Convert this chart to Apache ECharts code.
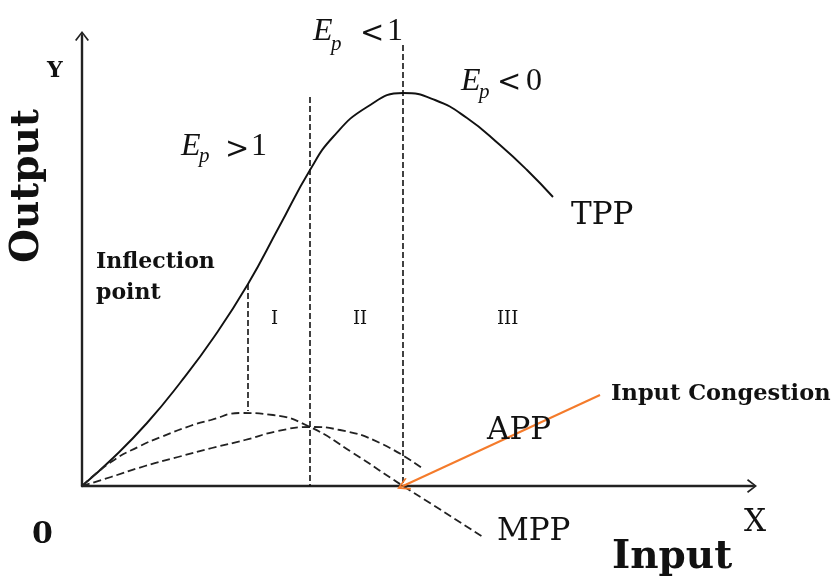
<!DOCTYPE html>
<html>
<head>
<meta charset="utf-8">
<script src="https://cdn.jsdelivr.net/npm/echarts@6/dist/echarts.min.js"></script>
<style>
html,body{margin:0;padding:0;background:#fff;}
#main{width:837px;height:579px;}
</style>
</head>
<body>
<div id="main"></div>
<script>
// curves, x = input, y = output
var tpp = [[0,0],[3.1,2.8],[6.5,6.3],[9.8,10.3],[13.2,14.9],[16.6,20.2],[19.7,25.9],[22.8,31.6],
	[25.1,34.9],[28.5,37.9],[32.1,39.3],[35.3,38.6],[38.5,36.8],[41.8,34.1],[44.5,31.6],[47.1,28.9]];
var mpp = [[0,0],[2.9,2.4],[5.8,4.0],[7.9,4.9],[10.8,6.0],[12.9,6.6],[15.8,7.3],[19.1,7.1],[22.8,5.9],
	[27.1,3.3],[32.1,0],[34.8,-1.7],[40.1,-5.1]];
var app = [[0,0],[2.9,0.9],[6.3,2.0],[9.6,2.9],[13.0,3.8],[16.3,4.6],[19.6,5.5],[22.8,5.9],[25.8,5.6],
	[29.8,4.3],[34.0,1.8]];
// vertical dashed dividers: [x, yTop, yBottom]
var dividers = [[16.6,20.2,7.5],[22.8,38.9,0],[32.1,44.1,0]];
// orange arrow from label to congestion point
var congestion = [[51.8,9.1],[32.1,0]];

var arrowPath = 'path://M0,9L7,0L14,9L12.6,10L7,2.6L1.4,10Z M6.3,1L7.7,1L7.7,10L6.3,10Z';
var serif = '"DejaVu Serif"';
var times = '"Liberation Serif"';

function txt(x, y, s, font, opt){
	var el = {
		type: 'text', x: x, y: y, z: 10,
		style: {text: s, font: font, fill: '#111', align: 'left', verticalAlign: 'middle'}
	};
	if(opt){ for(var k in opt){ el[k] = opt[k]; } }
	return el;
}
// E with subscript p, then relation sign and digit
function ep(xE, yE, yP, xRel, yRel, rel, xNum, num){
	return [
		txt(xE, yE, 'E', 'italic 32px ' + times),
		txt(xE + 18, yP, 'p', 'italic 21px ' + times),
		txt(xRel, yRel, rel, '29px ' + serif),
		txt(xNum, yE, num, '32px ' + times)
	];
}

var dividerSeries = dividers.map(function(d){
	return {
		type: 'line', data: [[d[0], d[1]], [d[0], d[2]]], symbol: 'none', silent: true,
		lineStyle: {color: '#111', width: 1.6, type: [6, 3]}
	};
});

var graphics = [
	txt(47, 71, 'Y', 'bold 22px ' + serif),
	txt(28, 186, 'Output', 'bold 39px ' + serif, {rotation: Math.PI/2, style: {text: 'Output', font: 'bold 39px ' + serif, fill: '#111', align: 'center', verticalAlign: 'middle'}}),
	txt(96, 262, 'Inflection', 'bold 22px ' + serif),
	txt(96, 293, 'point', 'bold 22px ' + serif),
	txt(32, 535, '0', 'bold 30px ' + serif),
	txt(744, 523, 'X', '31px ' + serif),
	txt(612, 558, 'Input', 'bold 39px ' + serif),
	txt(571, 216, 'TPP', '31px ' + serif),
	txt(487, 431, 'APP', '31px ' + serif),
	txt(497, 532, 'MPP', '31px ' + serif),
	txt(611, 394, 'Input Congestion', 'bold 22.5px ' + serif),
	txt(271, 319, 'I', '18px ' + serif),
	txt(353, 319, 'II', '18px ' + serif),
	txt(497, 319, 'III', '18px ' + serif)
].concat(
	ep(313, 31.5, 44, 360, 34.5, '<', 387, '1'),
	ep(181, 146.5, 156, 225, 150, '>', 251, '1'),
	ep(461, 81.5, 92, 497, 83.5, '<', 526, '0')
);

var myChart = echarts.init(document.getElementById('main'));
var option = {
	backgroundColor: '#fff',
	animation: false,
	grid: {left: 82, top: 36, right: 85, bottom: 93},
	xAxis: {
		type: 'value', min: 0, max: 67,
		axisLine: {show: true, onZero: false, symbol: ['none', arrowPath], symbolSize: [14, 10],
			lineStyle: {color: '#222', width: 2.4}},
		axisTick: {show: false}, axisLabel: {show: false}, splitLine: {show: false}
	},
	yAxis: {
		type: 'value', min: 0, max: 45,
		axisLine: {show: true, symbol: ['none', arrowPath], symbolSize: [14, 10],
			lineStyle: {color: '#222', width: 2.4}},
		axisTick: {show: false}, axisLabel: {show: false}, splitLine: {show: false}
	},
	series: [
		{
			name: 'TPP', type: 'line', data: tpp, smooth: true, symbol: 'none', clip: false,
			lineStyle: {color: '#111', width: 1.9}
		},{
			name: 'MPP', type: 'line', data: mpp, smooth: true, symbol: 'none', clip: false,
			lineStyle: {color: '#222', width: 1.8, type: [8, 4]}
		},{
			name: 'APP', type: 'line', data: app, smooth: true, symbol: 'none', clip: false,
			lineStyle: {color: '#222', width: 1.8, type: [8, 4]}
		},{
			name: 'Input Congestion', type: 'line', data: [], z: 5,
			markLine: {
				silent: true, animation: false,
				symbol: ['none', arrowPath], symbolSize: 13,
				label: {show: false},
				lineStyle: {color: '#f47b2b', width: 2, type: 'solid', opacity: 1},
				data: [[{coord: congestion[0]}, {coord: congestion[1]}]]
			}
		}
	].concat(dividerSeries),
	graphic: graphics
};
myChart.setOption(option);
</script>
</body>
</html>
